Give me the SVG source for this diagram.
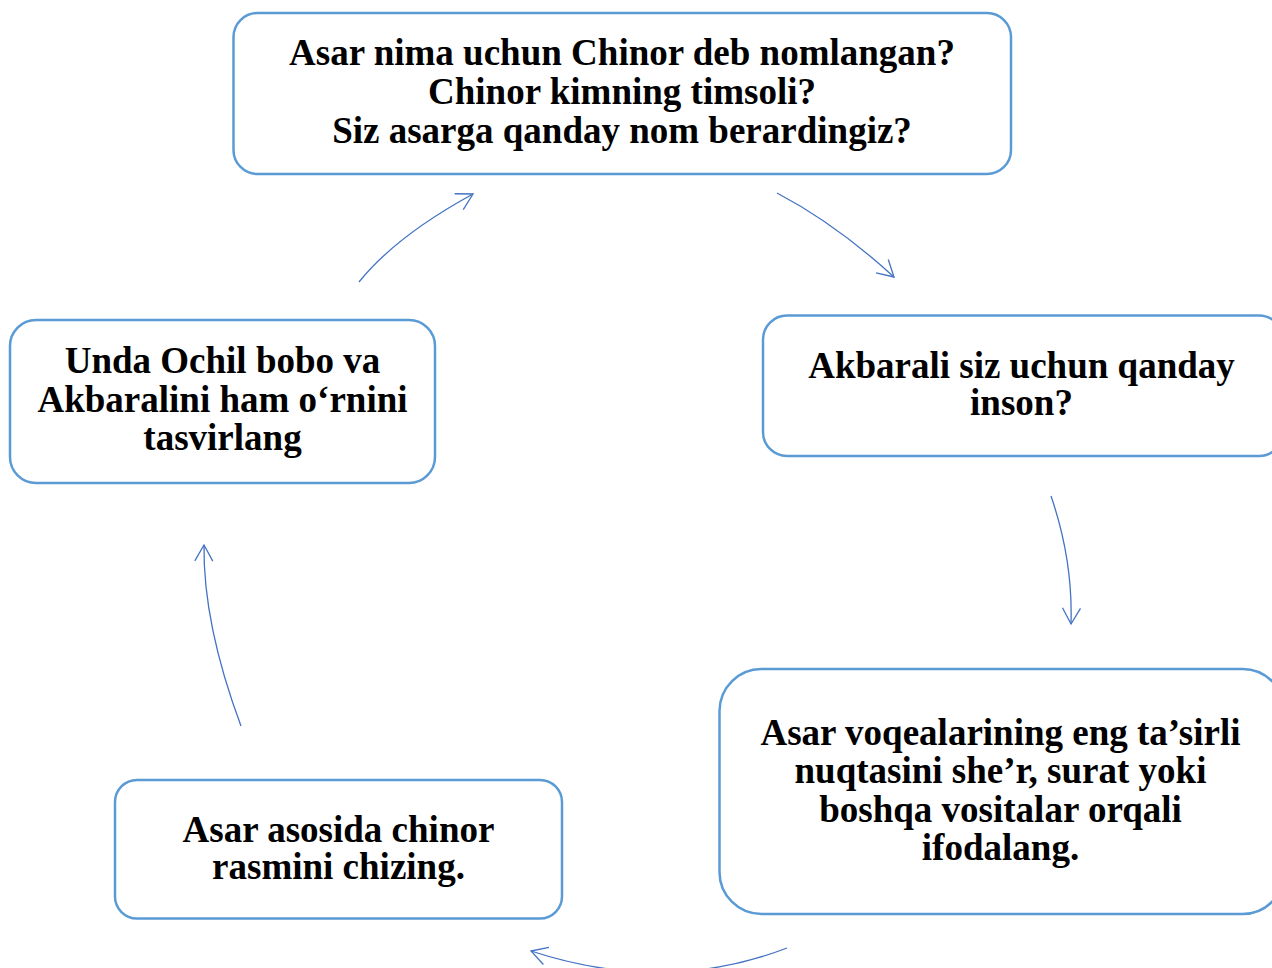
<svg xmlns="http://www.w3.org/2000/svg" width="1272" height="968" viewBox="0 0 1272 968">
<defs>
<style>
.box{fill:#ffffff;stroke:#5b9bd5;stroke-width:2.5}
.t{font-family:"Liberation Serif","Times New Roman",serif;font-weight:bold;font-size:37px;fill:#000;text-anchor:middle}
.arr{fill:none;stroke:#4472c4;stroke-width:1.3;marker-end:url(#ah)}
</style>
<marker id="ah" markerUnits="userSpaceOnUse" markerWidth="24" markerHeight="24" refX="0" refY="0" viewBox="-20 -12 24 24" orient="auto" overflow="visible">
<path d="M -16 -9 L 0 0 L -16 9" fill="none" stroke="#4472c4" stroke-width="1.3"/>
</marker>
</defs>
<rect width="1272" height="968" fill="#ffffff"/>
<g id="connectors">
<path class="arr" d="M 359 282 Q 396 236 473 194"/>
<path class="arr" d="M 777 193 Q 836 224 894 277"/>
<path class="arr" d="M 1051 496 Q 1073 560 1071 624"/>
<path class="arr" d="M 787 948 Q 665 995 531 951"/>
<path class="arr" d="M 241 726 Q 203 624 204 545"/>
</g>
<g id="node-top">
<rect class="box" x="233.5" y="13" width="777.5" height="161" rx="24"/>
<text class="t" x="622" y="65">Asar nima uchun Chinor deb nomlangan?</text>
<text class="t" x="622" y="104">Chinor kimning timsoli?</text>
<text class="t" x="622" y="143">Siz asarga qanday nom berardingiz?</text>
</g>
<g id="node-right">
<rect class="box" x="763" y="315.5" width="520" height="140.5" rx="24"/>
<text class="t" x="1021.5" y="378">Akbarali siz uchun qanday</text>
<text class="t" x="1021.5" y="415">inson?</text>
</g>
<g id="node-bottom-right">
<rect class="box" x="719.5" y="669" width="565" height="245" rx="42"/>
<text class="t" x="1000.5" y="745">Asar voqealarining eng ta’sirli</text>
<text class="t" x="1000.5" y="783">nuqtasini she’r, surat yoki</text>
<text class="t" x="1000.5" y="822">boshqa vositalar orqali</text>
<text class="t" x="1000.5" y="860">ifodalang.</text>
</g>
<g id="node-bottom-left">
<rect class="box" x="115" y="780" width="447" height="138.5" rx="22"/>
<text class="t" x="338.5" y="842">Asar asosida chinor</text>
<text class="t" x="338.5" y="879">rasmini chizing.</text>
</g>
<g id="node-left">
<rect class="box" x="10" y="320" width="425" height="163" rx="26"/>
<text class="t" x="222.5" y="373">Unda Ochil bobo va</text>
<text class="t" x="222.5" y="412">Akbaralini ham o‘rnini</text>
<text class="t" x="222.5" y="450">tasvirlang</text>
</g>
</svg>
